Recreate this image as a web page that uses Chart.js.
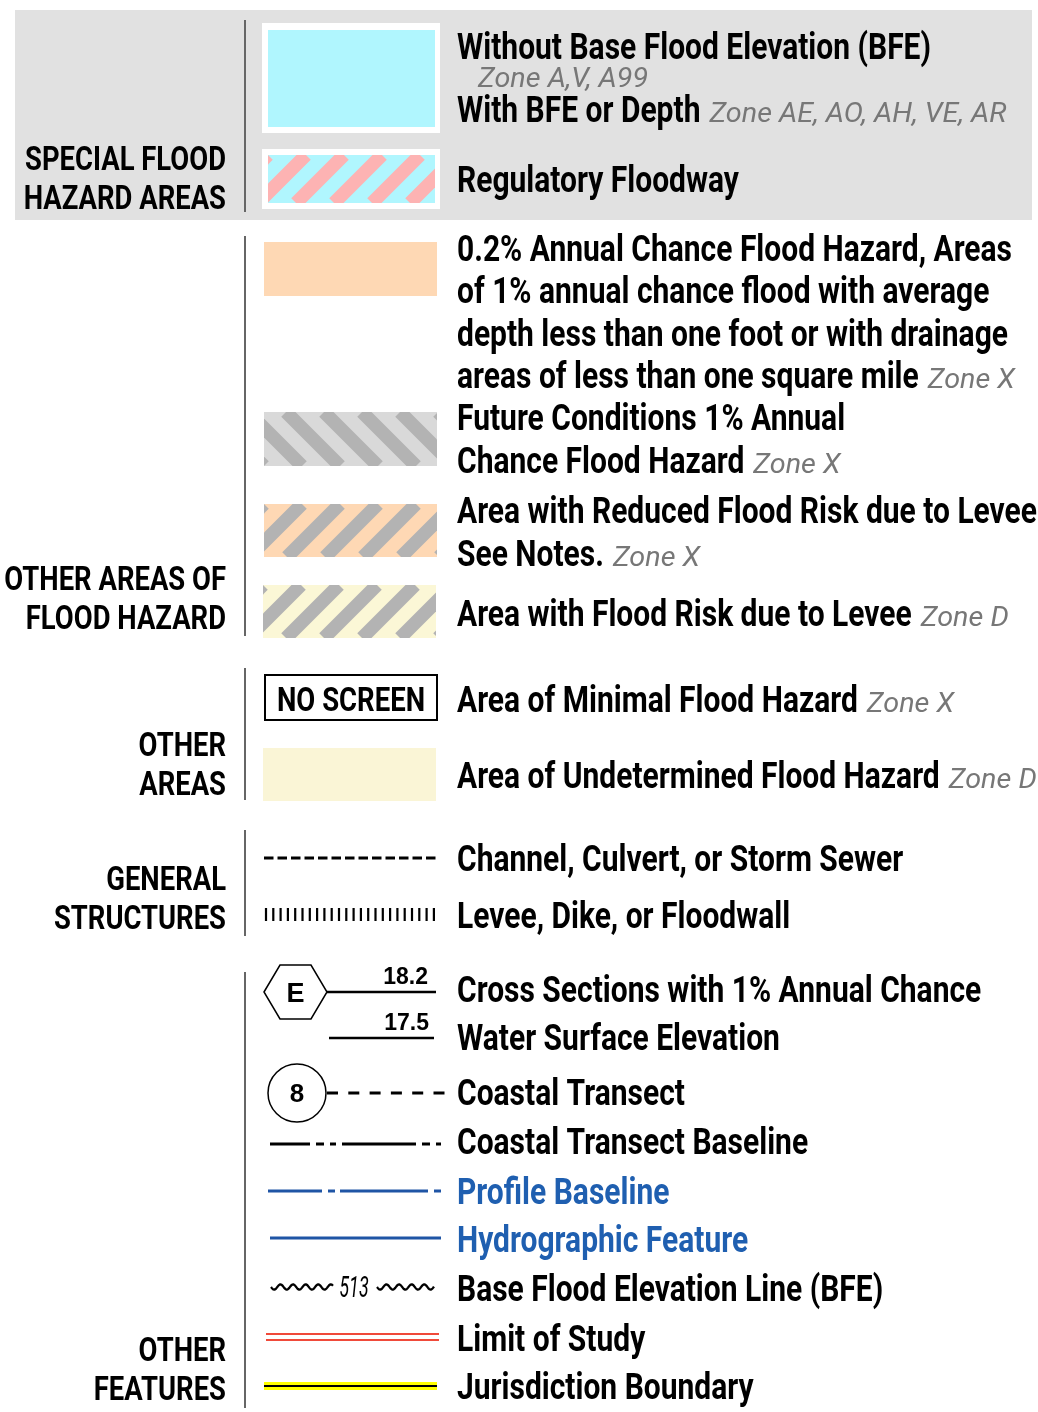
<!DOCTYPE html>
<html>
<head>
<meta charset="utf-8">
<script src="https://cdn.jsdelivr.net/npm/chart.js@4.4.1/dist/chart.umd.min.js"></script>
<style>
  html, body { margin: 0; padding: 0; background: #fff; }
  canvas { display: block; }
</style>
</head>
<body>
<canvas id="legend" width="1038" height="1412"></canvas>
<script>
"use strict";

// ---- legend content ----
const groupNames = [
    ["SPECIAL FLOOD", "HAZARD AREAS"],
    ["OTHER AREAS OF", "FLOOD HAZARD"],
    ["OTHER", "AREAS"],
    ["GENERAL", "STRUCTURES"],
    ["OTHER", "FEATURES"]
];

const itemLabels = [
    ["Without Base Flood Elevation (BFE)"],
    ["With BFE or Depth"],
    ["Regulatory Floodway"],
    ["0.2% Annual Chance Flood Hazard, Areas", "of 1% annual chance flood with average",
     "depth less than one foot or with drainage", "areas of less than one square mile"],
    ["Future Conditions 1% Annual", "Chance Flood Hazard"],
    ["Area with Reduced Flood Risk due to Levee", "See Notes."],
    ["Area with Flood Risk due to Levee"],
    ["Area of Minimal Flood Hazard"],
    ["Area of Undetermined Flood Hazard"],
    ["Channel, Culvert, or Storm Sewer"],
    ["Levee, Dike, or Floodwall"],
    ["Cross Sections with 1% Annual Chance", "Water Surface Elevation"],
    ["Coastal Transect"],
    ["Coastal Transect Baseline"],
    ["Profile Baseline"],
    ["Hydrographic Feature"],
    ["Base Flood Elevation Line (BFE)"],
    ["Limit of Study"],
    ["Jurisdiction Boundary"]
];

const itemZones = [
    "Zone A,V, A99", "Zone AE, AO, AH, VE, AR", "",
    "Zone X", "Zone X", "Zone X", "Zone D",
    "Zone X", "Zone D",
    "", "",
    "", "", "", "", "", "", "", ""
];

const symbolKinds = [
    "sfha", null, "floodway",
    "peach", "futureHatch", "leveeReduced", "leveeRisk",
    "noScreen", "undetermined",
    "channel", "levee",
    "crossSection", "transect", "transectBaseline", "profileBaseline",
    "hydro", "bfe", "limit", "jurisdiction"
];

const crossSectionLetter = "E";
const crossSectionElevations = ["18.2", "17.5"];
const transectNumber = "8";
const bfeElevation = "513";
const noScreenText = "NO SCREEN";

// ---- layout (scale units, 1 unit = 1 px) ----
const groupSpan = [[20, 212], [236, 636], [668, 800], [830, 936], [972, 1408]];
const groupBaseline = [170, 590, 756, 890, 1361];
const itemBaseline = [59, 122, 192, 261, 430, 523, 626, 712, 788, 871, 928, 1002, 1105, 1154, 1204, 1252, 1301, 1351, 1399];
const itemLineGap = [42, 42, 42, 42.3, 43, 43, 42, 42, 42, 42, 42, 48, 42, 42, 42, 42, 42, 42, 42];

const BOLD = '"Roboto", "DejaVu Sans", sans-serif';

const legendPlugin = {
    id: "floodLegend",
    afterDraw(chart)
    {
        const ctx = chart.ctx;
        const xs = chart.scales.x, ys = chart.scales.y;
        const X = v => xs.getPixelForValue(v);
        const Y = v => ys.getPixelForValue(v);

        ctx.save();
        ctx.font = `bold 36px ${BOLD}`;
        const sx = 474 / ctx.measureText(itemLabels[0][0]).width;
        ctx.font = `italic 28px ${BOLD}`;
        const sxZone = 297 / ctx.measureText(itemZones[1]).width;
        ctx.font = `bold 34px ${BOLD}`;
        const sxGroup = 201 / ctx.measureText(groupNames[0][0]).width;
        ctx.restore();

        const text = (s, x, y, font, color, k, align = "left") =>
        {
            ctx.save();
            ctx.font = font;
            ctx.fillStyle = color;
            ctx.textBaseline = "alphabetic";
            ctx.textAlign = align;
            ctx.translate(X(x), Y(y));
            ctx.scale(k, 1);
            ctx.fillText(s, 0, 0);
            const w = ctx.measureText(s).width * k;
            ctx.restore();
            return w;
        };

        const rect = (x0, y0, x1, y1, color) =>
        {
            ctx.fillStyle = color;
            ctx.fillRect(X(x0), Y(y0), X(x1) - X(x0), Y(y1) - Y(y0));
        };

        const line = (x0, y0, x1, y1, color, w, dash = []) =>
        {
            ctx.save();
            ctx.strokeStyle = color;
            ctx.lineWidth = w;
            ctx.setLineDash(dash);
            ctx.beginPath();
            ctx.moveTo(X(x0), Y(y0));
            ctx.lineTo(X(x1), Y(y1));
            ctx.stroke();
            ctx.restore();
        };

        const clipped = (x0, y0, x1, y1, draw) =>
        {
            ctx.save();
            ctx.beginPath();
            ctx.rect(X(x0), Y(y0), X(x1) - X(x0), Y(y1) - Y(y0));
            ctx.clip();
            draw();
            ctx.restore();
        };

        const hatch = (x0, y0, x1, y1, bg, fg, dir, period = 38) =>
        {
            rect(x0, y0, x1, y1, bg);
            clipped(x0, y0, x1, y1, () =>
            {
                ctx.strokeStyle = fg;
                ctx.lineWidth = period / 2 * Math.SQRT1_2;
                const h = y1 - y0;
                for (let s = x0 - h - period; s < x1 + h + period; s += period)
                {
                    ctx.beginPath();
                    if (dir > 0) { ctx.moveTo(X(s), Y(y1)); ctx.lineTo(X(s + h), Y(y0)); }
                    else { ctx.moveTo(X(s), Y(y0)); ctx.lineTo(X(s + h), Y(y1)); }
                    ctx.stroke();
                }
            });
        };

        // grey band for special flood hazard areas
        rect(15, 10, 1032, 220, "#e1e1e1");

        // group labels and separators
        groupNames.forEach((g, i) =>
        {
            g.forEach((s, j) => text(s, 226, groupBaseline[i] + j * 39, `bold 34px ${BOLD}`, "#000", sxGroup, "right"));
            line(245, groupSpan[i][0], 245, groupSpan[i][1], "#666", 2);
        });

        // item labels
        itemLabels.forEach((lines, i) =>
        {
            const color = (i === 14 || i === 15) ? "#1f5fb0" : "#000";
            let w = 0;
            lines.forEach((s, j) =>
            {
                w = text(s, 457, itemBaseline[i] + j * itemLineGap[i], `bold 36px ${BOLD}`, color, sx);
            });
            const z = itemZones[i];
            if (!z) return;
            const lastY = itemBaseline[i] + (lines.length - 1) * itemLineGap[i];
            if (i === 0) text(z, 478, 87, `italic 28px ${BOLD}`, "#777", sxZone);
            else text(z, 457 + w + 9, lastY, `italic 28px ${BOLD}`, "#777", sxZone);
        });

        // symbols
        symbolKinds.forEach(kind =>
        {
            switch (kind)
            {
                case "sfha":
                    rect(262, 23, 440, 133, "#fff");
                    rect(268, 30, 435, 127, "#b0f6fe");
                    break;
                case "floodway":
                    rect(262, 149, 440, 209, "#fff");
                    hatch(268, 155, 435, 203, "#b0f6fe", "#fdb3b3", 1);
                    break;
                case "peach":
                    rect(264, 242, 437, 296, "#fed8b4");
                    break;
                case "futureHatch":
                    hatch(264, 412, 437, 466, "#d9d9d9", "#b3b3b3", -1);
                    break;
                case "leveeReduced":
                    hatch(264, 504, 437, 557, "#fed8b4", "#b3b3b3", 1);
                    break;
                case "leveeRisk":
                    hatch(263, 585, 436, 638, "#fbf7d6", "#b3b3b3", 1);
                    break;
                case "noScreen":
                    ctx.save();
                    ctx.strokeStyle = "#000";
                    ctx.lineWidth = 2;
                    ctx.strokeRect(X(265), Y(675), X(437) - X(265), Y(720) - Y(675));
                    ctx.restore();
                    text(noScreenText, 351, 711, `bold 33px ${BOLD}`, "#000", sx, "center");
                    break;
                case "undetermined":
                    rect(263, 748, 436, 801, "#faf5d6");
                    break;
                case "channel":
                    line(264, 858, 438, 858, "#000", 3, [9.5, 4]);
                    break;
                case "levee":
                    for (let x = 266; x < 435; x += 7.3) line(x, 908, x, 921, "#000", 2.2);
                    break;
                case "crossSection":
                {
                    ctx.save();
                    ctx.strokeStyle = "#000";
                    ctx.lineWidth = 1.5;
                    ctx.beginPath();
                    [[264, 992], [280, 965], [311, 965], [327, 992], [311, 1019], [280, 1019]]
                        .forEach(([px, py], k) => k ? ctx.lineTo(X(px), Y(py)) : ctx.moveTo(X(px), Y(py)));
                    ctx.closePath();
                    ctx.stroke();
                    ctx.restore();
                    text(crossSectionLetter, 295.5, 1002, 'bold 27px "Liberation Sans", Arial, sans-serif', "#000", 1, "center");
                    line(327, 992, 436, 992, "#000", 2.5);
                    text(crossSectionElevations[0], 428, 984, 'bold 23px "Liberation Sans", Arial, sans-serif', "#000", 1, "right");
                    text(crossSectionElevations[1], 429, 1030, 'bold 23px "Liberation Sans", Arial, sans-serif', "#000", 1, "right");
                    line(329, 1038, 434, 1038, "#000", 2.5);
                    break;
                }
                case "transect":
                    ctx.save();
                    ctx.strokeStyle = "#000";
                    ctx.lineWidth = 1.5;
                    ctx.beginPath();
                    ctx.arc(X(297), Y(1093), 29, 0, Math.PI * 2);
                    ctx.stroke();
                    ctx.restore();
                    text(transectNumber, 297, 1102, 'bold 26px "Liberation Sans", Arial, sans-serif', "#000", 1, "center");
                    line(327, 1093, 446, 1093, "#000", 2.8, [11, 10.3]);
                    break;
                case "transectBaseline":
                    clipped(270, 1130, 441, 1160, () => line(236, 1144, 441, 1144, "#000", 2.8, [74, 6, 8, 6, 6, 6]));
                    break;
                case "profileBaseline":
                    clipped(268, 1180, 442, 1205, () => line(234, 1191, 442, 1191, "#1f55a5", 3, [88, 6, 7, 5]));
                    break;
                case "hydro":
                    line(270, 1238, 441, 1238, "#1f55a5", 3);
                    break;
                case "bfe":
                {
                    const wave = (xa, xb) =>
                    {
                        ctx.save();
                        ctx.strokeStyle = "#000";
                        ctx.lineWidth = 2.3;
                        ctx.beginPath();
                        for (let x = xa; x <= xb; x += 0.5)
                        {
                            const y = 1287 + 2.6 * Math.sin((x - xa) / 12.6 * Math.PI * 2);
                            x === xa ? ctx.moveTo(X(x), Y(y)) : ctx.lineTo(X(x), Y(y));
                        }
                        ctx.stroke();
                        ctx.restore();
                    };
                    wave(271, 333);
                    text(bfeElevation, 354, 1297, `italic 30px ${BOLD}`, "#000", 0.6, "center");
                    wave(377, 434);
                    break;
                }
                case "limit":
                    line(266, 1334, 439, 1334, "#f04a3a", 2);
                    line(266, 1340, 439, 1340, "#f04a3a", 2);
                    break;
                case "jurisdiction":
                    rect(264, 1382, 437, 1390, "#ffff00");
                    line(264, 1386, 437, 1386, "#000", 2);
                    break;
            }
        });
    }
};

new Chart(document.getElementById("legend"), {
    type: "scatter",
    data: { datasets: [] },
    options: {
        responsive: false,
        animation: false,
        devicePixelRatio: 1,
        layout: { padding: 0 },
        plugins: { legend: { display: false }, tooltip: { enabled: false } },
        scales: {
            x: { type: "linear", min: 0, max: 1038, display: false },
            y: { type: "linear", min: 0, max: 1412, reverse: true, display: false }
        }
    },
    plugins: [legendPlugin]
});
</script>
</body>
</html>
